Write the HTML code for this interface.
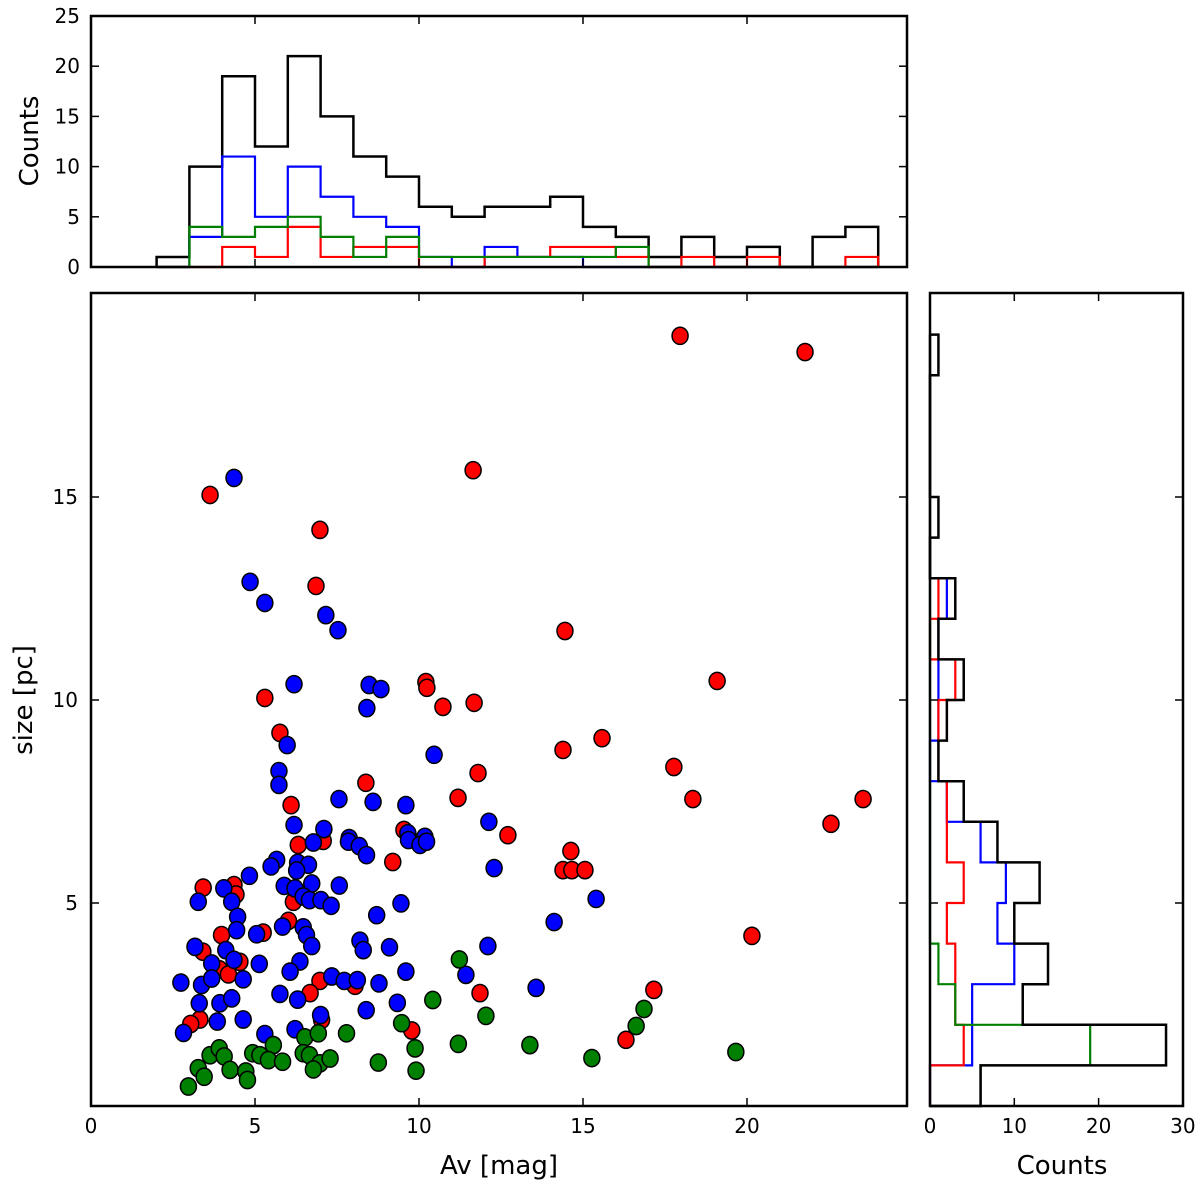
<!DOCTYPE html>
<html><head><meta charset="utf-8"><style>
html,body{margin:0;padding:0;background:#fff;}
svg{display:block;font-family:"DejaVu Sans","Liberation Sans",sans-serif;}
</style></head><body>
<svg id="fig" width="1200" height="1186" viewBox="0 0 1200 1186" xmlns="http://www.w3.org/2000/svg">
<g id="main"></g>
<g id="tophist"></g>
<g id="righthist"></g>
</svg>
<script>
// ---- data ----
const redX = [17.96,21.77,3.63,11.65,6.98,6.86,14.45,19.09,5.30,10.21,10.24,11.68,10.73,5.76,15.58,14.39,17.77,11.8,8.38,18.35,11.19,23.54,22.56,6.10,12.71,14.63,14.39,14.66,15.06,9.2,9.54,20.15,17.16,16.31,11.86,9.78,6.32,7.08,3.42,4.36,4.42,6.17,6.02,3.98,5.25,3.41,4.54,3.91,4.19,6.98,6.68,8.05,3.32,3.04,7.03];
const redY = [18.97,18.57,15.05,15.66,14.19,12.81,11.70,10.47,10.05,10.44,10.30,9.93,9.83,9.19,9.06,8.77,8.35,8.2,7.96,7.56,7.59,7.56,6.95,7.41,6.67,6.28,5.81,5.81,5.81,6.01,6.8,4.19,2.86,1.63,2.78,1.86,6.43,6.53,5.38,5.44,5.21,5.03,4.56,4.21,4.27,3.80,3.55,3.37,3.24,3.08,2.78,2.96,2.13,2.02,2.12];
const blueX = [4.36,4.85,5.30,7.16,7.53,6.19,8.48,8.41,8.84,5.98,5.73,5.73,10.46,7.56,8.6,9.6,6.19,7.1,7.87,9.66,10.18,12.13,12.29,14.12,15.4,13.57,12.1,11.43,6.78,7.85,8.18,8.40,9.68,10.03,10.23,5.66,5.49,4.83,6.30,6.63,6.27,4.05,4.29,3.27,5.89,6.22,6.73,6.47,6.66,7.01,7.32,7.57,9.45,8.71,4.47,4.44,5.05,5.84,6.47,6.57,6.73,8.20,8.30,9.10,3.17,4.11,4.36,3.68,5.13,6.37,6.07,2.74,3.37,3.68,4.64,7.34,7.72,8.12,8.78,9.60,5.76,6.30,3.30,3.93,4.29,8.39,9.34,7.00,3.85,4.64,2.82,5.30,6.22];
const blueY = [15.47,12.91,12.39,12.09,11.72,10.39,10.37,9.8,10.27,8.89,8.25,7.91,8.65,7.56,7.49,7.41,6.92,6.82,6.6,6.72,6.63,7.0,5.86,4.53,5.10,2.91,3.94,3.23,6.49,6.51,6.4,6.18,6.55,6.43,6.51,6.06,5.90,5.67,5.99,5.94,5.80,5.36,5.03,5.03,5.42,5.36,5.48,5.16,5.07,5.07,4.93,5.43,4.99,4.70,4.66,4.33,4.23,4.42,4.40,4.21,3.94,4.07,3.84,3.91,3.92,3.84,3.60,3.51,3.50,3.56,3.31,3.04,2.98,3.14,3.12,3.19,3.08,3.10,3.02,3.31,2.76,2.62,2.53,2.53,2.65,2.36,2.54,2.24,2.08,2.13,1.80,1.77,1.89];
const greenX = [11.23,10.42,9.47,9.88,9.91,7.79,8.76,11.20,6.52,6.93,5.56,4.93,5.15,5.41,5.84,6.47,6.66,6.98,6.78,7.29,3.63,3.91,4.06,3.27,3.45,4.24,4.72,4.77,2.97,12.04,13.38,15.27,19.66,16.86,16.62];
const greenY = [3.61,2.61,2.04,1.42,0.87,1.79,1.07,1.53,1.69,1.79,1.50,1.30,1.25,1.13,1.09,1.30,1.25,1.05,0.90,1.17,1.25,1.42,1.22,0.93,0.72,0.89,0.85,0.64,0.48,2.22,1.50,1.18,1.33,2.39,1.97];

const avBinStart = 2;
const avBlack = [1,10,19,12,21,15,11,9,6,5,6,6,7,4,3,1,3,1,2,0,3,4];
const avBlue  = [0,3,11,5,10,7,5,4,1,0,2,1,1,0,0,0,0,0,0,0,0,0];
const avRed   = [0,0,2,1,4,1,2,2,0,0,1,1,2,2,1,0,1,0,1,0,0,1];
const avGreen = [0,4,3,4,5,3,1,3,1,1,1,1,1,1,2,0,0,0,0,0,0,0];

const szBinStart = 0;
const szBlack = [6,28,11,14,10,13,8,4,1,2,4,1,3,0,1,0,0,0,1];
const szBlue  = [0,5,5,10,8,9,6,2,0,1,1,1,2,0,0,0,0,0,0];
const szRed   = [0,4,3,3,2,4,2,2,1,1,3,0,1,0,0,0,0,0,0];
const szGreen = [6,19,3,1,0,0,0,0,0,0,0,0,0,0,0,0,0,0,0];

const xTicks = [0,5,10,15,20];
const yTicks = [5,10,15];
const topYTicks = [0,5,10,15,20,25];
const rightXTicks = [0,10,20,30];

(function(){
const MX0=91,MX1=907,MY0=293,MY1=1106;
const X = v => MX0 + v*32.8;
const Y = v => MY1 - v*40.6;
const TY0=16,TY1=267;
const YC = c => TY1 - c*10.04;
const RX0=930,RX1=1183;
const XC = c => RX0 + c*8.43;

const NS="http://www.w3.org/2000/svg";
function mk(tag, parent, attrs){
  const e=document.createElementNS(NS,tag);
  for(const k in attrs) e.setAttribute(k,attrs[k]);
  parent.appendChild(e); return e;
}
function txt(parent, x, y, s, anchor, size, rot){
  const t=mk('text',parent,{x:x,y:y,'text-anchor':anchor,'font-size':size,fill:'#000'});
  if(rot) t.setAttribute('transform','rotate(-90 '+x+' '+y+')');
  t.textContent=s; return t;
}
const mainG=document.getElementById('main');
const topG=document.getElementById('tophist');
const rightG=document.getElementById('righthist');

function scatter(xs, ys, color, name){
  const g=mk('g',mainG,{});
  
  
  for(let i=0;i<xs.length;i++){
    const c=mk('ellipse',g,{cx:X(xs[i]),cy:Y(ys[i]),rx:8,ry:8.6,fill:color,stroke:'#000','stroke-width':1.5});
    
    
  }
}
scatter(redX, redY, '#ff0000', 'red-series');
scatter(blueX, blueY, '#0000ff', 'blue-series');
scatter(greenX, greenY, '#008000', 'green-series');

const mf=mk('rect',mainG,{x:MX0,y:MY0,width:MX1-MX0,height:MY1-MY0,fill:'none',stroke:'#000','stroke-width':2.5});


xTicks.forEach(v=>{
  mk('line',mainG,{x1:X(v),x2:X(v),y1:MY1,y2:MY1-8,stroke:'#000','stroke-width':1.5});
  mk('line',mainG,{x1:X(v),x2:X(v),y1:MY0,y2:MY0+8,stroke:'#000','stroke-width':1.5});
  const t=txt(mainG,X(v),1133,String(v),'middle',20);
  
  
});
yTicks.forEach(v=>{
  mk('line',mainG,{x1:MX0,x2:MX0+8,y1:Y(v),y2:Y(v),stroke:'#000','stroke-width':1.5});
  mk('line',mainG,{x1:MX1,x2:MX1-8,y1:Y(v),y2:Y(v),stroke:'#000','stroke-width':1.5});
  const t=txt(mainG,78,Y(v)+7,String(v),'end',20);
  
  
});
const xl=txt(mainG,499,1174,'Av [mag]','middle',26);


const yl=txt(mainG,32,700,'size [pc]','middle',26,true);



function stepH(counts, color, w, name){
  let d='M'+X(avBinStart)+' '+YC(0);
  for(let i=0;i<counts.length;i++){
    const a=X(avBinStart+i), b=X(avBinStart+i+1);
    d+=' L'+a+' '+YC(counts[i])+' L'+b+' '+YC(counts[i]);
  }
  d+=' L'+X(avBinStart+counts.length)+' '+YC(0);
  const p=mk('path',topG,{d:d,fill:'none',stroke:color,'stroke-width':w});
  
  
}
stepH(avBlack,'#000',2.5,'top-hist-all');
stepH(avBlue,'#0000ff',2.2,'top-hist-blue');
stepH(avRed,'#ff0000',2.2,'top-hist-red');
stepH(avGreen,'#008000',2.2,'top-hist-green');
const tf=mk('rect',topG,{x:MX0,y:TY0,width:MX1-MX0,height:TY1-TY0,fill:'none',stroke:'#000','stroke-width':2.5});


xTicks.forEach(v=>{
  mk('line',topG,{x1:X(v),x2:X(v),y1:TY1,y2:TY1-8,stroke:'#000','stroke-width':1.5});
  mk('line',topG,{x1:X(v),x2:X(v),y1:TY0,y2:TY0+8,stroke:'#000','stroke-width':1.5});
});
topYTicks.forEach(v=>{
  mk('line',topG,{x1:MX0,x2:MX0+8,y1:YC(v),y2:YC(v),stroke:'#000','stroke-width':1.5});
  mk('line',topG,{x1:MX1,x2:MX1-8,y1:YC(v),y2:YC(v),stroke:'#000','stroke-width':1.5});
  const t=txt(topG,80,YC(v)+7,String(v),'end',20);
  
  
});
const tl=txt(topG,38,141,'Counts','middle',26,true);



function stepV(counts, color, w, name){
  let d='M'+XC(0)+' '+Y(szBinStart);
  for(let i=0;i<counts.length;i++){
    const a=Y(szBinStart+i), b=Y(szBinStart+i+1);
    d+=' L'+XC(counts[i])+' '+a+' L'+XC(counts[i])+' '+b;
  }
  d+=' L'+XC(0)+' '+Y(szBinStart+counts.length);
  const p=mk('path',rightG,{d:d,fill:'none',stroke:color,'stroke-width':w});
  
  
}
stepV(szBlue,'#0000ff',2.2,'right-hist-blue');
stepV(szRed,'#ff0000',2.2,'right-hist-red');
stepV(szGreen,'#008000',2.2,'right-hist-green');
stepV(szBlack,'#000',2.5,'right-hist-all');
const rf=mk('rect',rightG,{x:RX0,y:MY0,width:RX1-RX0,height:MY1-MY0,fill:'none',stroke:'#000','stroke-width':2.5});


rightXTicks.forEach(v=>{
  mk('line',rightG,{x1:XC(v),x2:XC(v),y1:MY1,y2:MY1-8,stroke:'#000','stroke-width':1.5});
  mk('line',rightG,{x1:XC(v),x2:XC(v),y1:MY0,y2:MY0+8,stroke:'#000','stroke-width':1.5});
  const t=txt(rightG,XC(v),1133,String(v),'middle',20);
  
  
});
yTicks.forEach(v=>{
  mk('line',rightG,{x1:RX0,x2:RX0+8,y1:Y(v),y2:Y(v),stroke:'#000','stroke-width':1.5});
  mk('line',rightG,{x1:RX1,x2:RX1-8,y1:Y(v),y2:Y(v),stroke:'#000','stroke-width':1.5});
});
const rl=txt(rightG,1062,1174,'Counts','middle',26);


})();
</script>
</body></html>
